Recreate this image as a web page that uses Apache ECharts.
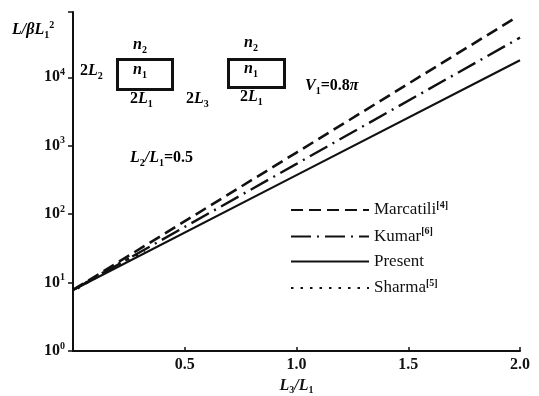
<!DOCTYPE html>
<html>
<head>
<meta charset="utf-8">
<script src="https://cdn.jsdelivr.net/npm/echarts@6/dist/echarts.min.js"></script>
<style>
  html, body { margin: 0; padding: 0; background: #fff; }
  #chart { width: 539px; height: 396px; }
</style>
</head>
<body>
<div id="chart"></div>
<script>
// values (log y axis)
const marcatili = [[0, 7.8], [1.0, 795], [1.97, 70800]]
const kumar = [[0, 7.8], [1.0, 543], [2.0, 38000]]
const present = [[0, 7.8], [1.0, 372], [2.0, 17800]]
const sharma = [[0.02, 8.3], [0.12, 13], [0.22, 20], [0.32, 29]]
const xTicks = [0.5, 1.0, 1.5, 2.0]
const yTicks = [1, 10, 100, 1000, 10000]

const serif = '"Liberation Serif", "DejaVu Serif", serif'
const ink = '#111'

const chart = echarts.init(document.getElementById('chart'))

// rich text helpers for sub/superscripts
const rich = {
  m: { fontFamily: serif, fontSize: 16, fontStyle: 'italic', fontWeight: 'bold', color: ink, lineHeight: 20 },
  r: { fontFamily: serif, fontSize: 16, fontWeight: 'bold', color: ink, lineHeight: 20 },
  t: { fontFamily: serif, fontSize: 17, color: ink, lineHeight: 20 },
  s: { fontFamily: serif, fontSize: 10, fontWeight: 'bold', color: ink, lineHeight: 10, verticalAlign: 'bottom' },
  p: { fontFamily: serif, fontSize: 10, fontWeight: 'bold', color: ink, lineHeight: 10, verticalAlign: 'top' }
}

function txt(x, y, str) {
  return { type: 'text', left: x, top: y, style: { text: str, rich: rich } }
}

const option = {
  animation: false,
  backgroundColor: '#fff',
  grid: { left: 73, right: 19, top: 12, bottom: 45, containLabel: false, outerBoundsMode: 'none' },
  legend: {
    orient: 'vertical',
    left: 290,
    top: 200,
    padding: 0,
    itemWidth: 78,
    itemHeight: 14,
    itemGap: 8,
    itemStyle: { opacity: 0 },
    textStyle: { fontFamily: serif, fontSize: 17, color: ink, rich: rich },
    formatter: name => {
      const i = name.indexOf('[')
      return i < 0 ? '{t|' + name + '}' : '{t|' + name.slice(0, i) + '}{p|' + name.slice(i) + '}'
    },
    data: ['Marcatili[4]', 'Kumar[6]', 'Present', 'Sharma[5]']
  },
  xAxis: {
    type: 'value',
    min: 0,
    max: 2.0,
    interval: 0.5,
    name: '{m|L}{s|3}{m|/L}{s|1}',
    nameLocation: 'middle',
    nameGap: 24,
    nameTextStyle: { rich: rich },
    axisLine: { lineStyle: { color: ink, width: 2 } },
    axisTick: { inside: true, length: 4, lineStyle: { color: ink, width: 1.5 } },
    splitLine: { show: false },
    axisLabel: {
      fontFamily: serif, fontSize: 16, fontWeight: 'bold', color: ink, margin: 6,
      formatter: v => (xTicks.includes(v) ? v.toFixed(1) : '')
    }
  },
  yAxis: {
    type: 'log',
    min: 1,
    max: 90000,
    logBase: 10,
    axisLine: { lineStyle: { color: ink, width: 2 } },
    axisTick: { length: 5, lineStyle: { color: ink, width: 1.5 } },
    splitLine: { show: false },
    minorTick: { show: false },
    axisLabel: {
      margin: 8,
      rich: rich,
      formatter: v => {
        if (!yTicks.includes(Math.round(v)) || Math.abs(v - Math.round(v)) > 1e-6) return ''
        return '{r|10}{p|' + Math.round(Math.log10(v)) + '}'
      }
    }
  },
  series: [
    {
      name: 'Marcatili[4]', type: 'line', data: marcatili, symbol: 'none',
      lineStyle: { color: ink, width: 2.6, type: [12, 6] }, itemStyle: { color: ink }
    },
    {
      name: 'Kumar[6]', type: 'line', data: kumar, symbol: 'none',
      lineStyle: { color: ink, width: 2.4, type: [20, 6, 2, 6] }, itemStyle: { color: ink }
    },
    {
      name: 'Present', type: 'line', data: present, symbol: 'none',
      lineStyle: { color: ink, width: 2.2 }, itemStyle: { color: ink }
    },
    {
      name: 'Sharma[5]', type: 'line', data: sharma, symbol: 'none',
      lineStyle: { color: ink, width: 3, type: [2.5, 7] }, itemStyle: { color: ink }
    }
  ],
  graphic: [
    txt(12, 20, '{m|L/βL}{s|1}{p|2}'),
    txt(80, 63, '{r|2}{m|L}{s|2}'),
    { type: 'rect', left: 115, top: 57, shape: { width: 55, height: 30 }, style: { fill: 'none', stroke: ink, lineWidth: 3 } },
    txt(133, 37, '{m|n}{s|2}'),
    txt(133, 62, '{m|n}{s|1}'),
    txt(130, 91, '{r|2}{m|L}{s|1}'),
    txt(186, 91, '{r|2}{m|L}{s|3}'),
    { type: 'rect', left: 226, top: 57, shape: { width: 56, height: 28 }, style: { fill: 'none', stroke: ink, lineWidth: 3 } },
    txt(244, 35, '{m|n}{s|2}'),
    txt(244, 61, '{m|n}{s|1}'),
    txt(240, 89, '{r|2}{m|L}{s|1}'),
    txt(305, 78, '{m|V}{s|1}{r|=0.8}{m|π}'),
    txt(130, 150, '{m|L}{s|2}{m|/L}{s|1}{r|=0.5}')
  ]
}

chart.setOption(option)
</script>
</body>
</html>
